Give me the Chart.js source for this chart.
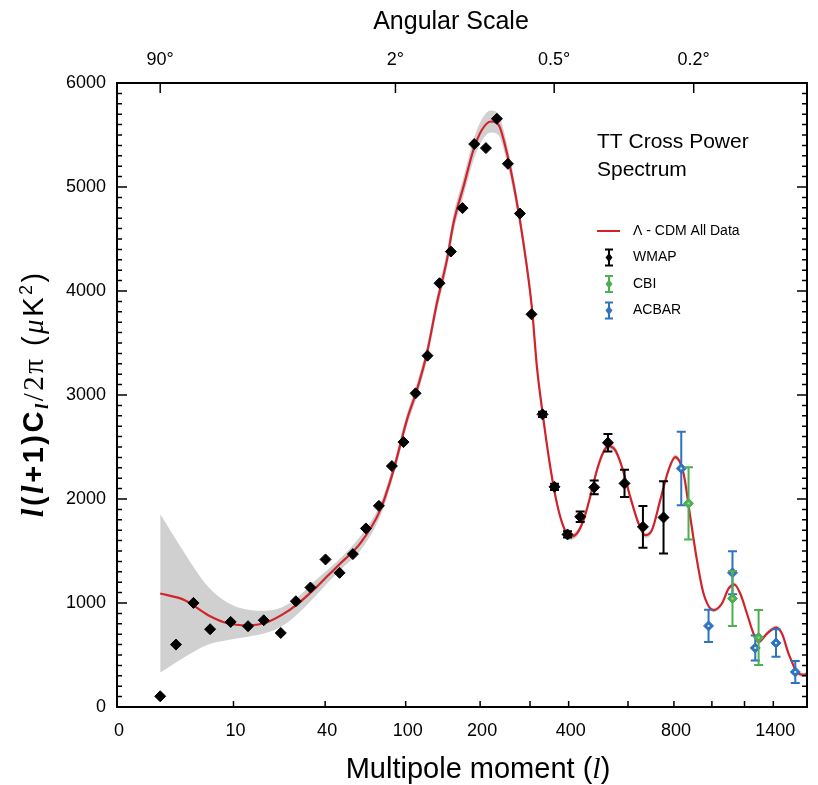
<!DOCTYPE html>
<html>
<head>
<meta charset="utf-8">
<title>TT Cross Power Spectrum</title>
<script src="https://cdn.jsdelivr.net/npm/chart.js@4.4.1/dist/chart.umd.min.js"></script>
<style>
  html, body { margin: 0; padding: 0; background: #fff; }
  #wrap { width: 818px; height: 785px; }
</style>
</head>
<body>
<div id="wrap"><canvas id="spectrum" width="818" height="785"></canvas></div>
<script>
/* ---------- Axis ticks ---------- */
const multipoleTicks  = [0, 10, 40, 100, 200, 300, 400, 600, 800, 1000, 1200, 1400];
const multipoleLabels = ['0', '10', '40', '100', '200', '', '400', '', '800', '', '', '1400'];
const angularTicks    = [90, 2, 0.5, 0.2];          // degrees (top axis)
const powerTicks      = [0, 1000, 2000, 3000, 4000, 5000, 6000];

/* ---------- WMAP ---------- */
const wmapL = [2, 3, 4.5, 6.4, 9.5, 12.9, 16.7, 21.7, 27, 33, 40.2, 47.9, 56.2, 65.3, 75.4,
  86.7, 97.8, 110.4, 124.1, 139.1, 154.5, 171.5, 190.1, 210.1, 230.3, 251.9, 277.2, 303.4,
  330, 360.9, 396.7, 434.3, 478.7, 525.5, 586.5, 660.3, 750.9];
const wmapPower = [103, 600, 1001, 748, 818, 777, 834, 712, 1017, 1149, 1419, 1290, 1470, 1717, 1934,
  2317, 2547, 3016, 3378, 4075, 4379, 4797, 5413, 5374, 5656, 5223, 4745, 3776,
  2814, 2117, 1659, 1829, 2112, 2541, 2150, 1732, 1823];
const wmapErr = [null, null, null, null, null, null, null, null, null, null, null, null, null, null, null,
  null, null, null, null, null, null, null, null, null, null, null, null, null,
  25, 30, 30, 50, 67, 85, 131, 200, 348];

/* ---------- CBI ---------- */
const cbiL     = [873, 1123, 1295];
const cbiPower = [1958, 1043, 668];
const cbiErr   = [348, 265, 265];

/* ---------- ACBAR ---------- */
const acbarL     = [836, 981, 1123, 1272, 1420, 1569];
const acbarPower = [2294, 780, 1290, 568, 616, 337];
const acbarErr   = [353, 154, 207, 120, 132, 106];

/* ---------- Lambda-CDM best fit + cosmic variance band ---------- */
const modelL = [2, 3.7, 6.15, 9.07, 12.9, 17, 21.9, 27.9, 35, 41.6, 48.3, 61.2, 76.5, 88.2, 101.2,
  111.9, 123.4, 135.7, 149, 158.2, 173.1, 188.9, 203.1, 219.1, 233.4, 249.9, 267.1, 285.1, 304.4,
  316.2, 332.5, 349.6, 367.3, 385.5, 404.5, 424.3, 444.5, 465.7, 487.7, 510.1, 527.6, 551.7, 576.6,
  608.7, 642.1, 670, 698.8, 735.8, 774.2, 806.3, 847.5, 881.8, 917.2, 953.1, 1009.5, 1058.7, 1098.6,
  1134.1, 1172.2, 1215.9, 1260.2, 1294.6, 1353.9, 1421.9, 1464.8, 1515.7, 1582.4, 1636.3, 1665];
const modelPower = [1091, 1027, 883, 803, 786, 808, 883, 995, 1139, 1267, 1380, 1573, 1893, 2278, 2759,
  3048, 3401, 3882, 4299, 4652, 5004, 5358, 5550, 5630, 5598, 5326, 4941, 4460, 3837,
  3272, 2759, 2310, 1958, 1732, 1636, 1669, 1797, 2021, 2278, 2454, 2509, 2470, 2310,
  2021, 1765, 1652, 1701, 1989, 2278, 2403, 2246, 1829, 1412, 1091, 931, 995, 1139,
  1178, 1091, 899, 706, 626, 706, 764, 706, 514, 337, 308, 321];
const bandUpper = [1855, 1476, 1156, 1001, 935, 925, 956, 1059, 1215, 1325, 1430, 1643, 1953, 2338, 2819,
  3113, 3471, 3957, 4379, 4737, 5094, 5458, 5655, 5735, 5698, 5416, 5021, 4530, 3897,
  3322, 2804, 2350, 1993, 1762, 1666, 1699, 1827, 2051, 2308, 2484, 2539, 2500, 2340,
  2046, 1790, 1677, 1726, 2014, 2303, 2428, 2271, 1849, 1432, 1111, 951, 1015, 1159,
  1198, 1111, 919, 726, 646, 726, 784, 726, 534, 357, 328, 341];
const bandLower = [331, 481, 601, 645, 676, 708, 774, 900, 1060, 1200, 1320, 1503, 1833, 2218, 2699,
  2983, 3331, 3807, 4219, 4567, 4914, 5258, 5445, 5525, 5498, 5236, 4861, 4390, 3777,
  3222, 2714, 2270, 1923, 1702, 1606, 1639, 1767, 1991, 2248, 2424, 2479, 2440, 2280,
  1996, 1740, 1627, 1676, 1964, 2253, 2378, 2221, 1809, 1392, 1071, 911, 975, 1119,
  1158, 1071, 879, 686, 606, 686, 744, 686, 494, 317, 288, 301];

/* ---------- Colours ---------- */
const RED = '#d2232a';
const GREEN = '#4caf50';
const BLUE = '#2f72c0';
const BAND = '#d0d0d0';

const SANS = '"Liberation Sans", Arial, sans-serif';
const SERIF = '"Liberation Serif", "Times New Roman", serif';

/* ---------- Multipole axis: quarter-power spacing ---------- */
const L_MAX = 1665;
const L_KNEE = 2;        // below l = 2 the axis runs straight into the "0" corner
const T_EDGE = 0.842;    // l^(1/4) coordinate of the left frame

function warp(l) {
    if (l >= L_KNEE) return Math.pow(l, 0.25);
    return T_EDGE + (Math.pow(L_KNEE, 0.25) - T_EDGE) * l / L_KNEE;
}
function unwarp(t) {
    const tk = Math.pow(L_KNEE, 0.25);
    if (t >= tk) return Math.pow(t, 4);
    return (t - T_EDGE) / (tk - T_EDGE) * L_KNEE;
}

class QuarticRootScale extends Chart.LinearScale {
    getPixelForValue(value) {
        if (value === null || value === undefined || isNaN(value)) return NaN;
        const t0 = warp(this.min), t1 = warp(this.max);
        return this.getPixelForDecimal((warp(value) - t0) / (t1 - t0));
    }
    getValueForPixel(pixel) {
        const t0 = warp(this.min), t1 = warp(this.max);
        return unwarp(t0 + this.getDecimalForPixel(pixel) * (t1 - t0));
    }
}
QuarticRootScale.id = 'quarticRoot';
QuarticRootScale.defaults = Chart.LinearScale.defaults;
Chart.register(QuarticRootScale);

const toPoints = (xs, ys) => xs.map((x, i) => ({ x: x, y: ys[i] }));

/* ---------- Plugins ---------- */
// vertical error bars with caps under each marker set, small speck on top of markers
const errorBars = {
    id: 'errorBars',
    beforeDatasetDraw(chart, args) {
        const ds = chart.data.datasets[args.index];
        if (!ds.errorBars) return;
        const { ctx } = chart;
        const y = chart.scales.y;
        ctx.save();
        ctx.strokeStyle = ds.borderColor;
        ctx.lineWidth = 2;
        args.meta.data.forEach((pt, i) => {
            const e = ds.errorBars[i];
            if (e == null) return;
            const v = ds.data[i].y;
            const top = y.getPixelForValue(v + e);
            const bot = y.getPixelForValue(v - e);
            ctx.beginPath();
            ctx.moveTo(pt.x, top); ctx.lineTo(pt.x, bot);
            ctx.moveTo(pt.x - 4.5, top); ctx.lineTo(pt.x + 4.5, top);
            ctx.moveTo(pt.x - 4.5, bot); ctx.lineTo(pt.x + 4.5, bot);
            ctx.stroke();
        });
        ctx.restore();
    },
    afterDatasetDraw(chart, args) {
        const ds = chart.data.datasets[args.index];
        if (!ds.centerDot) return;
        const { ctx } = chart;
        ctx.save();
        ctx.fillStyle = ds.centerDot;
        args.meta.data.forEach(pt => ctx.fillRect(pt.x - 1, pt.y - 1, 2, 2));
        ctx.restore();
    }
};

// box frame with inward tick marks on all four sides
const frameTicks = {
    id: 'frameTicks',
    afterDatasetsDraw(chart) {
        const { ctx, chartArea: a, scales } = chart;
        ctx.save();
        ctx.strokeStyle = '#000';
        ctx.lineWidth = 1.5;
        ctx.beginPath();
        scales.x.ticks.forEach(t => {
            if (t.value <= 0) return;
            const px = scales.x.getPixelForValue(t.value);
            ctx.moveTo(px, a.bottom); ctx.lineTo(px, a.bottom - 6);
        });
        scales.x2.ticks.forEach(t => {
            const px = scales.x2.getPixelForValue(t.value);
            ctx.moveTo(px, a.top); ctx.lineTo(px, a.top + 10);
        });
        for (let v = 0; v <= powerTicks[powerTicks.length - 1]; v += 100) {
            const py = scales.y.getPixelForValue(v);
            const len = v % 1000 === 0 ? 10 : 5;
            ctx.moveTo(a.left, py); ctx.lineTo(a.left + len, py);
            ctx.moveTo(a.right, py); ctx.lineTo(a.right - len, py);
        }
        ctx.stroke();
        ctx.lineWidth = 2;
        ctx.strokeRect(a.left, a.top, a.right - a.left, a.bottom - a.top);
        ctx.restore();
    }
};

// draws a row of differently-styled text pieces centred on x, optional extra gap per glyph
function drawRuns(ctx, runs, x, y, gap) {
    gap = gap || 0;
    const glyphs = [];
    runs.forEach(r => {
        ctx.font = r.font;
        for (const ch of r.text) glyphs.push({ ch: ch, font: r.font, dy: r.dy || 0, w: ctx.measureText(ch).width });
    });
    const total = glyphs.reduce((s, g) => s + g.w, 0) + gap * (glyphs.length - 1);
    let cx = x - total / 2;
    glyphs.forEach(g => {
        ctx.font = g.font;
        ctx.fillText(g.ch, cx, y + g.dy);
        cx += g.w + gap;
    });
}

// axis titles (mixed fonts, sub/superscripts)
const axisTitles = {
    id: 'axisTitles',
    afterDraw(chart) {
        const { ctx } = chart;
        ctx.save();
        ctx.fillStyle = '#000';
        ctx.textBaseline = 'alphabetic';

        ctx.font = '25px ' + SANS;
        ctx.textAlign = 'center';
        ctx.fillText('Angular Scale', 451, 29);
        ctx.textAlign = 'left';

        drawRuns(ctx, [
            { text: 'Multipole moment (', font: '29px ' + SANS },
            { text: 'l', font: 'italic 30px ' + SERIF },
            { text: ')', font: '29px ' + SANS }
        ], 478, 778);

        ctx.translate(43, 395);
        ctx.rotate(-Math.PI / 2);
        drawRuns(ctx, [
            { text: 'l', font: 'italic bold 31px ' + SERIF },
            { text: '(', font: 'bold 29px ' + SANS },
            { text: 'l', font: 'italic bold 31px ' + SERIF },
            { text: '+1)C', font: 'bold 29px ' + SANS },
            { text: 'l', font: 'italic bold 19px ' + SERIF, dy: 5 },
            { text: '/2π', font: '29px ' + SERIF },
            { text: ' (', font: '29px ' + SANS },
            { text: 'μ', font: 'italic 29px ' + SERIF },
            { text: 'K', font: '29px ' + SANS },
            { text: '2', font: '18px ' + SANS, dy: -11 },
            { text: ')', font: '29px ' + SANS }
        ], 0, 0, 2.5);
        ctx.restore();
    }
};

// in-plot title and legend
const legendItems = [
    { label: 'Λ - CDM All Data', color: RED, kind: 'line' },
    { label: 'WMAP', color: '#000', kind: 'bar' },
    { label: 'CBI', color: GREEN, kind: 'bar' },
    { label: 'ACBAR', color: BLUE, kind: 'bar' }
];
const insetLegend = {
    id: 'insetLegend',
    afterDraw(chart) {
        const { ctx } = chart;
        ctx.save();
        ctx.fillStyle = '#000';
        ctx.textAlign = 'left';
        ctx.textBaseline = 'middle';
        ctx.font = '21px ' + SANS;
        ctx.fillText('TT Cross Power', 597, 142);
        ctx.fillText('Spectrum', 597, 170);

        ctx.font = '14px ' + SANS;
        legendItems.forEach((item, i) => {
            const y = 231 + i * 26.5;
            const cx = 609;
            ctx.strokeStyle = item.color;
            ctx.fillStyle = item.color;
            ctx.lineWidth = 2;
            ctx.beginPath();
            if (item.kind === 'line') {
                ctx.moveTo(597, y); ctx.lineTo(620, y);
                ctx.stroke();
            } else {
                ctx.moveTo(cx, y - 8); ctx.lineTo(cx, y + 8);
                ctx.moveTo(cx - 4, y - 8); ctx.lineTo(cx + 4, y - 8);
                ctx.moveTo(cx - 4, y + 8); ctx.lineTo(cx + 4, y + 8);
                ctx.stroke();
                ctx.beginPath();
                ctx.moveTo(cx, y - 4.5); ctx.lineTo(cx + 3.5, y);
                ctx.lineTo(cx, y + 4.5); ctx.lineTo(cx - 3.5, y);
                ctx.closePath();
                ctx.fill();
            }
            ctx.fillStyle = '#000';
            ctx.fillText(item.label, 633, y);
        });
        ctx.restore();
    }
};

/* ---------- Chart ---------- */
const tickFont = { family: SANS, size: 18 };

new Chart(document.getElementById('spectrum'), {
    type: 'line',
    data: {
        datasets: [
            {
                label: 'WMAP',
                data: toPoints(wmapL, wmapPower),
                errorBars: wmapErr,
                showLine: false,
                pointStyle: 'rectRot',
                pointRadius: 5.5,
                backgroundColor: '#000',
                borderColor: '#000',
                borderWidth: 1,
                order: 0
            },
            {
                label: 'CBI',
                data: toPoints(cbiL, cbiPower),
                errorBars: cbiErr,
                centerDot: '#a8d8a8',
                showLine: false,
                pointStyle: 'rectRot',
                pointRadius: 5,
                backgroundColor: GREEN,
                borderColor: GREEN,
                borderWidth: 1,
                order: 0
            },
            {
                label: 'ACBAR',
                data: toPoints(acbarL, acbarPower),
                errorBars: acbarErr,
                centerDot: '#dbe8f7',
                showLine: false,
                pointStyle: 'rectRot',
                pointRadius: 5,
                backgroundColor: BLUE,
                borderColor: BLUE,
                borderWidth: 1,
                order: 0
            },
            {
                label: 'Λ - CDM All Data',
                data: toPoints(modelL, modelPower),
                borderColor: RED,
                borderWidth: 2.2,
                pointRadius: 0,
                cubicInterpolationMode: 'monotone',
                fill: false,
                order: 1
            },
            {
                label: 'band upper',
                data: toPoints(modelL, bandUpper),
                borderColor: 'transparent',
                borderWidth: 0,
                pointRadius: 0,
                backgroundColor: BAND,
                cubicInterpolationMode: 'monotone',
                fill: '+1',
                order: 2
            },
            {
                label: 'band lower',
                data: toPoints(modelL, bandLower),
                borderColor: 'transparent',
                borderWidth: 0,
                pointRadius: 0,
                cubicInterpolationMode: 'monotone',
                fill: false,
                order: 2
            }
        ]
    },
    options: {
        responsive: false,
        animation: false,
        layout: { padding: { left: 0, right: 11, top: 0, bottom: 0 } },
        plugins: {
            legend: { display: false },
            tooltip: { enabled: false }
        },
        scales: {
            x: {
                type: 'quarticRoot',
                position: 'bottom',
                min: 0,
                max: L_MAX,
                afterBuildTicks: s => { s.ticks = multipoleTicks.map(v => ({ value: v })); },
                afterFit: s => { s.height = 78; },
                grid: { display: false, drawTicks: false },
                border: { display: false },
                ticks: {
                    autoSkip: false,
                    maxRotation: 0,
                    padding: 13,
                    labelOffset: 2,
                    color: '#000',
                    font: tickFont,
                    callback: (v, i) => multipoleLabels[i]
                }
            },
            x2: {
                type: 'quarticRoot',
                position: 'top',
                min: 0,
                max: L_MAX,
                afterBuildTicks: s => { s.ticks = angularTicks.map(d => ({ value: 180 / d })); },
                afterFit: s => { s.height = 83; },
                grid: { display: false, drawTicks: false },
                border: { display: false },
                ticks: {
                    autoSkip: false,
                    maxRotation: 0,
                    padding: 12,
                    color: '#000',
                    font: tickFont,
                    callback: (v, i) => angularTicks[i] + '°'
                }
            },
            y: {
                type: 'linear',
                min: 0,
                max: 6000,
                afterBuildTicks: s => { s.ticks = powerTicks.map(v => ({ value: v })); },
                afterFit: s => { s.width = 117; },
                grid: { display: false, drawTicks: false },
                border: { display: false },
                ticks: {
                    padding: 11,
                    color: '#000',
                    font: tickFont,
                    callback: v => String(v)
                }
            }
        }
    },
    plugins: [errorBars, frameTicks, axisTitles, insetLegend]
});
</script>
</body>
</html>
